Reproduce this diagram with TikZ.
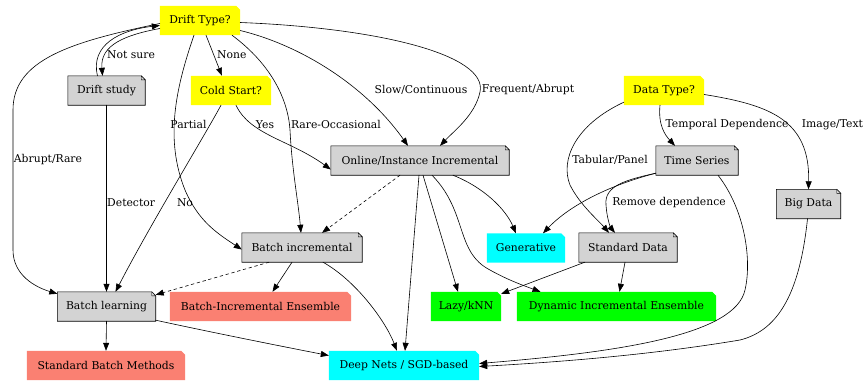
\documentclass[tikz,border=0pt]{standalone}
\usepackage{fontspec}
\setmainfont{DejaVu Serif}
\usetikzlibrary{arrows.meta,backgrounds}

\definecolor{qyellow}{HTML}{FFFF00}
\definecolor{qgray}{HTML}{D3D3D3}
\definecolor{qsalmon}{HTML}{FA8072}
\definecolor{qcyan}{HTML}{00FFFF}
\definecolor{qgreen}{HTML}{00FF00}

\tikzset{
  box/.style={rectangle, minimum height=29, inner sep=0pt, font=\fontsize{10.8}{13}\selectfont},
  lbl/.style={inner sep=0pt, font=\fontsize{10.8}{13}\selectfont},
  arr/.style={-{Triangle[length=8pt,width=6pt]}, line width=0.6pt}
}

\begin{document}
\begin{tikzpicture}[x=1pt, y=-1pt, line cap=round, line join=round]
                \useasboundingbox (0,0) rectangle (865,381);

                % question nodes
                \node[box, minimum width=80] (drift) at (200,20.5) {Drift Type?};
                \node[box, minimum width=80] (cold) at (231,90.5) {Cold Start?};
                \node[box, minimum width=80] (dtype) at (664,90.5) {Data Type?};

                % intermediate nodes
                \node[box, minimum width=77] (study) at (106.5,90.5) {Drift study};
                \node[box, minimum width=178] (online) at (420,160.5) {Online/Instance Incremental};
                \node[box, minimum width=82] (tseries) at (697,160.5) {Time Series};
                \node[box, minimum width=64] (bigdata) at (808.5,204) {Big Data};
                \node[box, minimum width=120] (batchinc) at (302,247.5) {Batch incremental};
                \node[box, minimum width=98] (stddata) at (628,247.5) {Standard Data};
                \node[box, minimum width=98] (batchl) at (106.5,306.5) {Batch learning};

                % leaf nodes
                \node[box, minimum width=78] (gener) at (526,248) {Generative};
                \node[box, minimum width=181] (bie) at (260.5,306.5) {Batch-Incremental Ensemble};
                \node[box, minimum width=70] (lazy) at (466,306.5) {Lazy/kNN};
                \node[box, minimum width=199] (dyn) at (616.5,306.5) {Dynamic Incremental Ensemble};
                \node[box, minimum width=158] (sbm) at (106,365.5) {Standard Batch Methods};
                \node[box, minimum width=150] (deep) at (404,365.5) {Deep Nets / SGD-based};

                % note shapes
                \begin{scope}[on background layer]
                \foreach \n/\c in {drift/qyellow, cold/qyellow, dtype/qyellow, gener/qcyan, deep/qcyan,
                                   bie/qsalmon, sbm/qsalmon, lazy/qgreen, dyn/qgreen}
                  \fill[\c] (\n.south west) -- (\n.south east) -- ([yshift=-4pt]\n.north east)
                     -- ([xshift=-4pt]\n.north east) -- (\n.north west) -- cycle;
                \foreach \n in {study, online, tseries, bigdata, batchinc, stddata, batchl} {
                  \filldraw[fill=qgray, line width=0.6pt] (\n.south west) -- (\n.south east) -- ([yshift=-4pt]\n.north east)
                     -- ([xshift=-4pt]\n.north east) -- (\n.north west) -- cycle;
                  \filldraw[fill=qgray, line width=0.4pt] ([xshift=-4pt]\n.north east) -- ([xshift=-4pt,yshift=-4pt]\n.north east)
                     -- ([yshift=-4pt]\n.north east) -- cycle;
                }
                \end{scope}

                % edge labels
                \node[lbl, anchor=west] (lnotsure) at (107,55) {Not sure};
                \node[lbl, anchor=west] (lnone) at (217,55) {None};
                \node[lbl] (lpartial) at (188.5,124) {Partial};
                \node[lbl] (lrare) at (336,124) {Rare-Occasional};
                \node[lbl] (lslow) at (421,90) {Slow/Continuous};
                \node[lbl] (lfreq) at (528,90) {Frequent/Abrupt};
                \node[lbl] (labrupt) at (48,160) {Abrupt/Rare};
                \node[lbl, anchor=west] (ldetector) at (107,203) {Detector};
                \node[lbl] (lno) at (185,203) {No};
                \node[lbl] (lyes) at (265,125) {Yes};
                \node[lbl] (ltemporal) at (727,125) {Temporal Dependence};
                \node[lbl] (limage) at (832.5,125) {Image/Text};
                \node[lbl] (ltabular) at (610,160) {Tabular/Panel};
                \node[lbl] (lremove) at (669,203) {Remove dependence};

                % edges from Drift Type?
                \draw[arr] ([yshift=-8pt]drift.west) .. controls (125,35) and (100,45) .. ([xshift=-4pt]study.north);
                \draw[arr] ([xshift=-9pt]study.north) .. controls (90,45) and (120,30) .. ([yshift=-5pt]drift.west);
                \draw[arr] ([xshift=6pt]drift.south) -- ([xshift=-9pt]cold.north);
                \draw[arr] ([xshift=-6pt]drift.south) .. controls (175,90) and (165,140) .. (185,190)
                     .. controls (198,220) and (215,232) .. ([yshift=-2pt]batchinc.west);
                \draw[arr] ([xshift=32pt]drift.south) .. controls (272,65) and (288,100) .. (290,130)
                     .. controls (292,170) and (298,200) .. ([xshift=-1pt]batchinc.north);
                \draw[arr] ([yshift=-10pt]drift.east) .. controls (300,45) and (365,85) .. ([xshift=-12pt]online.north);
                \draw[arr] ([yshift=-2pt]drift.east) .. controls (380,28) and (488,55) .. (480,92)
                     .. controls (475,115) and (455,130) .. ([xshift=20pt]online.north);
                \draw[arr] ([yshift=-3pt]drift.west) .. controls (70,42) and (13,60) .. (13,110)
                     -- (13,250) .. controls (13,275) and (35,287) .. ([yshift=-2pt]batchl.north west);

                % edges from Drift study and Cold Start?
                \draw[arr] (study.south) -- (batchl.north);
                \draw[arr] ([xshift=-10pt]cold.south) .. controls (205,135) and (150,225) .. ([xshift=9pt]batchl.north);
                \draw[arr] ([xshift=5pt]cold.south) .. controls (250,135) and (290,140) .. ([yshift=-9pt]online.west);

                % edges from Online/Instance Incremental
                \draw[arr, dashed] ([xshift=-20pt]online.south) -- ([xshift=20pt]batchinc.north);
                \draw[arr] ([xshift=33pt]online.south) .. controls (485,188) and (506,210) .. ([xshift=-10pt]gener.north);
                \draw[arr] ([xshift=3pt]online.south) -- ([xshift=-8pt]lazy.north);
                \draw[arr] ([xshift=12pt]online.south) .. controls (468,212) and (455,252) .. (490,270)
                     .. controls (508,280) and (522,285) .. ([xshift=-76pt]dyn.north);
                \draw[arr] ([xshift=-1pt]online.south) -- ([xshift=1pt]deep.north);

                % edges from Batch incremental
                \draw[arr, dashed] ([xshift=-33pt]batchinc.south) -- ([yshift=-3pt]batchl.north east);
                \draw[arr] ([xshift=-10pt]batchinc.south) -- ([xshift=12pt]bie.north);
                \draw[arr] ([xshift=21pt]batchinc.south) .. controls (355,280) and (385,320) .. ([xshift=-7pt]deep.north);

                % edges from Batch learning
                \draw[arr] (batchl.south) -- (sbm.north);
                \draw[arr] ([yshift=1pt]batchl.south east) .. controls (210,332) and (280,346) .. ([yshift=10pt]deep.west);

                % edges from Data Type?
                \draw[arr] ([xshift=-4pt]dtype.south) .. controls (658,125) and (665,135) .. ([xshift=-22pt]tseries.north);
                \draw[arr] ([yshift=-4pt]dtype.east) .. controls (770,105) and (810,120) .. (bigdata.north);
                \draw[arr] ([yshift=3pt]dtype.south west) .. controls (575,125) and (560,160) .. (570,185)
                     .. controls (580,205) and (598,220) .. ([xshift=-19pt]stddata.north);

                % edges from Time Series, Big Data, Standard Data
                \draw[arr] ([yshift=2pt]tseries.south west) .. controls (625,180) and (604,186) .. (606,205)
                     .. controls (607,220) and (611,228) .. ([xshift=-13pt]stddata.north);
                \draw[arr] ([yshift=2pt]tseries.south west) .. controls (610,185) and (570,205) .. ([xshift=17pt]gener.north);
                \draw[arr] ([xshift=21pt]tseries.south) .. controls (745,210) and (752,260) .. (745,290)
                     .. controls (735,335) and (620,352) .. ([yshift=2pt]deep.east);
                \draw[arr] ([xshift=-1pt]bigdata.south) .. controls (800,290) and (780,330) .. (740,340)
                     .. controls (650,355) and (560,362) .. ([yshift=-1pt]deep.east);
                \draw[arr] ([xshift=6pt]stddata.south west) -- ([yshift=-2pt]lazy.north east);
                \draw[arr] ([xshift=-3pt]stddata.south) -- ([xshift=3pt]dyn.north);

\end{tikzpicture}
\end{document}
